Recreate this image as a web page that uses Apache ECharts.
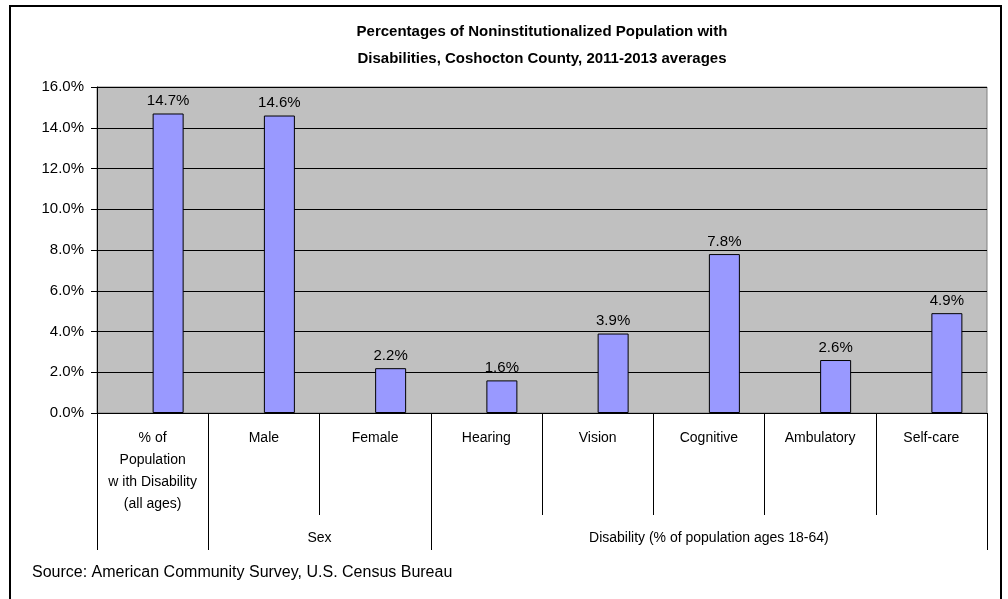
<!DOCTYPE html>
<html>
<head>
<meta charset="utf-8">
<script src="https://cdn.jsdelivr.net/npm/echarts@6/dist/echarts.min.js"></script>
<style>
html,body{margin:0;padding:0;background:#fff;}
#chart{width:1008px;height:599px;}
</style>
</head>
<body>
<div id="chart"></div>
<script>
const titleText = 'Percentages of Noninstitutionalized Population with\nDisabilities, Coshocton County, 2011-2013 averages';
const categories = ['% of\nPopulation\nw ith Disability\n(all ages)', 'Male', 'Female', 'Hearing', 'Vision', 'Cognitive', 'Ambulatory', 'Self-care'];
const values = [14.7, 14.6, 2.2, 1.6, 3.9, 7.8, 2.6, 4.9];
const groupNames = ['', 'Sex', 'Disability (% of population ages 18-64)'];
const groupStart = [0, 1, 3];
const groupEnd = [0, 2, 7];
const sourceText = 'Source: American Community Survey, U.S. Census Bureau';

const FONT = 'Liberation Sans, Arial, sans-serif';
const chart = echarts.init(document.getElementById('chart'), null, {renderer: 'canvas'});

const option = {
  animation: false,
  backgroundColor: '#ffffff',
  title: {
    text: titleText,
    left: 542, top: 18, textAlign: 'center', padding: 0,
    textStyle: {fontFamily: FONT, fontSize: 15, fontWeight: 'bold', color: '#000', lineHeight: 27}
  },
  grid: {left: 97, right: 21, top: 87, bottom: 186, show: true, backgroundColor: '#C0C0C0', borderColor: '#808080', borderWidth: 1},
  xAxis: {
    type: 'category',
    data: categories,
    axisLine: {lineStyle: {color: '#000', width: 1}},
    axisTick: {show: true, interval: 0, length: 102, lineStyle: {color: '#000'}},
    axisLabel: {interval: 0, fontFamily: FONT, fontSize: 14, color: '#000', lineHeight: 22, verticalAlign: 'top', margin: 14}
  },
  yAxis: {
    type: 'value', min: 0, max: 16, interval: 2,
    axisLine: {show: true, lineStyle: {color: '#000'}},
    axisTick: {show: true, length: 6, lineStyle: {color: '#000'}},
    splitLine: {show: true, lineStyle: {color: '#000', width: 1}},
    axisLabel: {fontFamily: FONT, fontSize: 15, color: '#000', margin: 13, formatter: v => v.toFixed(1) + '%'}
  },
  series: [
    {type: 'bar', data: values.map(() => null), barWidth: 31, barGap: '0%', silent: true},
    {
      type: 'bar', data: values, barWidth: 31, barGap: '0%',
      itemStyle: {color: '#9999FF', borderColor: '#000', borderWidth: 1},
      label: {show: true, position: 'top', distance: 5, fontFamily: FONT, fontSize: 15, color: '#000', formatter: p => p.value.toFixed(1) + '%'}
    }
  ]
};
chart.setOption(option);

function buildGraphics() {
  const graphics = [];
  const x0 = chart.convertToPixel({xAxisIndex: 0}, 0);
  const x1 = chart.convertToPixel({xAxisIndex: 0}, 1);
  const step = x1 - x0;
  const yBase = chart.convertToPixel({yAxisIndex: 0}, 0);
  const boundary = i => x0 - step / 2 + i * step;
  const seps = new Set();
  groupStart.forEach(s => seps.add(s));
  seps.add(groupEnd[groupEnd.length - 1] + 1);
  seps.forEach(i => {
    const x = Math.round(boundary(i)) + 0.5;
    graphics.push({type: 'line', shape: {x1: x, y1: yBase, x2: x, y2: yBase + 137}, style: {stroke: '#000', lineWidth: 1}, silent: true});
  });
  groupNames.forEach((name, g) => {
    if (!name) return;
    const cx = (boundary(groupStart[g]) + boundary(groupEnd[g] + 1)) / 2;
    graphics.push({type: 'text', x: cx, y: yBase + 125, style: {text: name, fontFamily: FONT, fontSize: 14, fill: '#000', textAlign: 'center', textVerticalAlign: 'middle'}, silent: true});
  });
  graphics.push({type: 'text', x: 32, y: 573, style: {text: sourceText, fontFamily: FONT, fontSize: 16, fill: '#000', textAlign: 'left', textVerticalAlign: 'middle'}, silent: true});
  graphics.push({type: 'rect', shape: {x: 10, y: 6, width: 991, height: 620}, style: {fill: 'none', stroke: '#000', lineWidth: 2}, silent: true});
  chart.setOption({graphic: graphics});
}
buildGraphics();
</script>
</body>
</html>
